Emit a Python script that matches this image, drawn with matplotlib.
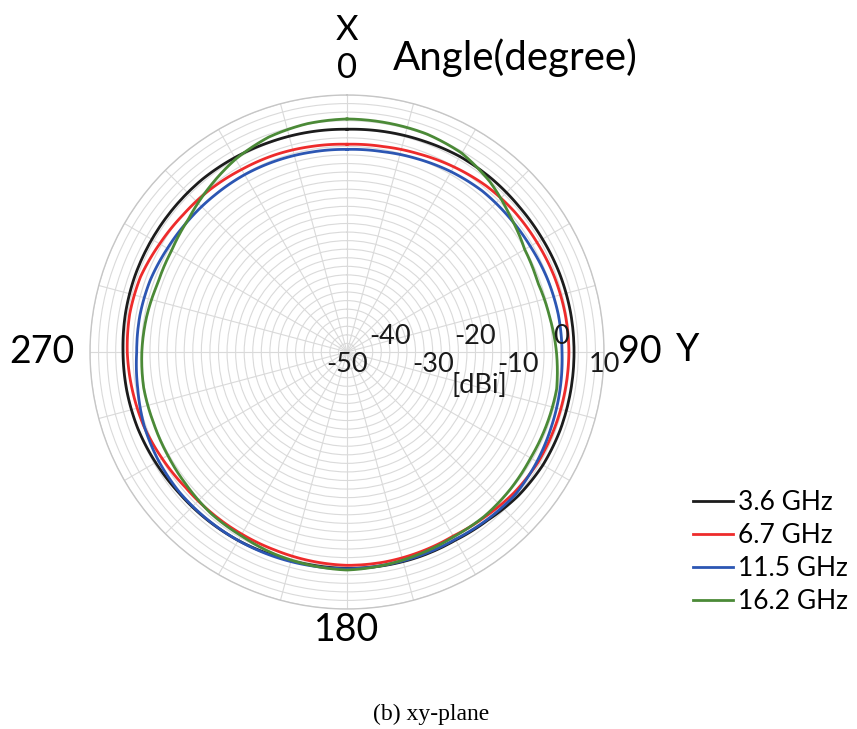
import numpy as np
import matplotlib
matplotlib.use("Agg")
import matplotlib.pyplot as plt

plt.rcParams["font.family"] = ["Lato", "DejaVu Sans"]

W, H = 857, 729

# 方位角（度，自 X 轴顺时针）与各频点增益 (dBi)
theta_deg = np.arange(0, 361, 10)
gain_3p6 = [2.0, 2.2, 2.4, 2.7, 2.7, 2.6, 2.7, 2.9, 3.0, 3.0, 3.0, 3.0, 2.8,
            2.2, 1.2, 0.7, 0.7, 0.6, 0.5, 0.4, 0.5, 0.8, 1.0, 1.2, 1.6, 2.0,
            2.2, 2.3, 2.5, 2.6, 2.6, 2.6, 2.6, 2.4, 2.2, 2.1, 2.0]
gain_6p7 = [-1.5, -1.3, -0.8, -0.1, 0.6, 1.0, 1.2, 1.5, 1.7, 1.8, 1.7, 1.6,
            1.5, 1.0, 0.2, -0.4, -0.3, -0.2, -0.2, -0.5, -0.8, -0.9, -0.9,
            -0.8, -0.2, 0.5, 0.9, 1.3, 1.5, 1.3, 0.5, -0.1, -0.4, -0.8, -1.0,
            -1.3, -1.5]
gain_11p5 = [-2.7, -2.5, -2.0, -1.4, -0.9, -0.8, -0.6, -0.2, 0.1, 0.2, 0.5,
             0.8, 1.2, 1.5, 1.0, 0.5, 0.5, 0.5, 0.6, 0.6, 0.7, 0.8, 0.9, 1.0,
             0.8, 0.4, -0.4, -0.9, -0.9, -1.1, -1.6, -1.9, -2.1, -2.2, -2.4,
             -2.6, -2.7]
gain_16p2 = [4.4, 4.3, 4.2, 3.6, 1.9, -0.4, -2.1, -2.6, -2.0, -1.1, -0.3,
             -0.4, -0.5, -0.2, 0.0, -0.2, 0.1, 0.5, 0.9, 0.5, 0.1, -0.5, -0.7,
             -1.3, -1.7, -1.9, -1.8, -2.1, -2.5, -3.0, -2.7, -1.7, 0.1, 2.0,
             3.4, 4.1, 4.4]

series = [gain_3p6, gain_6p7, gain_11p5, gain_16p2]
freq_labels = ["3.6 GHz", "6.7 GHz", "11.5 GHz", "16.2 GHz"]
colors = ["#1c1c1c", "#ee2b2b", "#2c56b3", "#4b8a37"]

r_min, r_max = -50, 10
r_labels = [-50, -40, -30, -20, -10, 0, 10]


def px(x, y):
    return x / W, 1 - y / H


fig = plt.figure(figsize=(W / 100, H / 100), dpi=100)
cx, cy, R = 347, 352, 257
ax = fig.add_axes([(cx - R) / W, (H - cy - R) / H, 2 * R / W, 2 * R / H],
                  projection="polar")
ax.set_theta_zero_location("N")
ax.set_theta_direction(-1)
ax.set_rlim(r_min, r_max)
ax.set_rgrids(np.arange(r_min, r_max + 1, 2))
ax.set_thetagrids(np.arange(0, 360, 15))
ax.set_xticklabels([])
ax.set_yticklabels([])
ax.grid(color="#dadada", lw=0.8)
ax.spines["polar"].set_color("#c6c6c6")
ax.spines["polar"].set_linewidth(1.0)

th = np.deg2rad(theta_deg)
for g, lab, c in zip(series, freq_labels, colors):
    line, = ax.plot(th, g, color=c, lw=2.0, label=lab)
    # 相邻采样点之间按 (θ, r) 线性走弧线，而不是画直弦
    line.get_path()._interpolation_steps = 40

# 径向刻度：沿 90° 方向交替上下放置
for v in r_labels:
    above = (v // 10) % 2 == 0
    ax.annotate(f"{v}", xy=(np.pi / 2, v),
                xytext=(0, 3 if above else 0), textcoords="offset pixels",
                ha="center", va="bottom" if above else "top", fontsize=19.5,
                color="#1a1a1a")
fig.text(*px(479, 386), "[dBi]", ha="center", va="center", fontsize=19.5,
         color="#1a1a1a")

# 角度标注
fig.text(*px(347, 30), "X", ha="center", va="center", fontsize=25)
fig.text(*px(347, 68), "0", ha="center", va="center", fontsize=25)
fig.text(*px(515, 58), "Angle(degree)", ha="center", va="center", fontsize=29)
fig.text(*px(640, 352), "90", ha="center", va="center", fontsize=27)
fig.text(*px(688, 350), "Y", ha="center", va="center", fontsize=27)
fig.text(*px(347, 630), "180", ha="center", va="center", fontsize=27)
fig.text(*px(42, 352), "270", ha="center", va="center", fontsize=27)

fig.legend(loc="upper left", bbox_to_anchor=px(693, 490), frameon=False,
           fontsize=19, handlelength=1.5, handletextpad=0.2,
           labelspacing=0.3, borderpad=0, borderaxespad=0)

fig.text(*px(431, 714), "(b) xy-plane", ha="center", va="center",
         fontsize=17, family=["Liberation Serif", "DejaVu Serif"])

fig.savefig("out.png", dpi=100)
